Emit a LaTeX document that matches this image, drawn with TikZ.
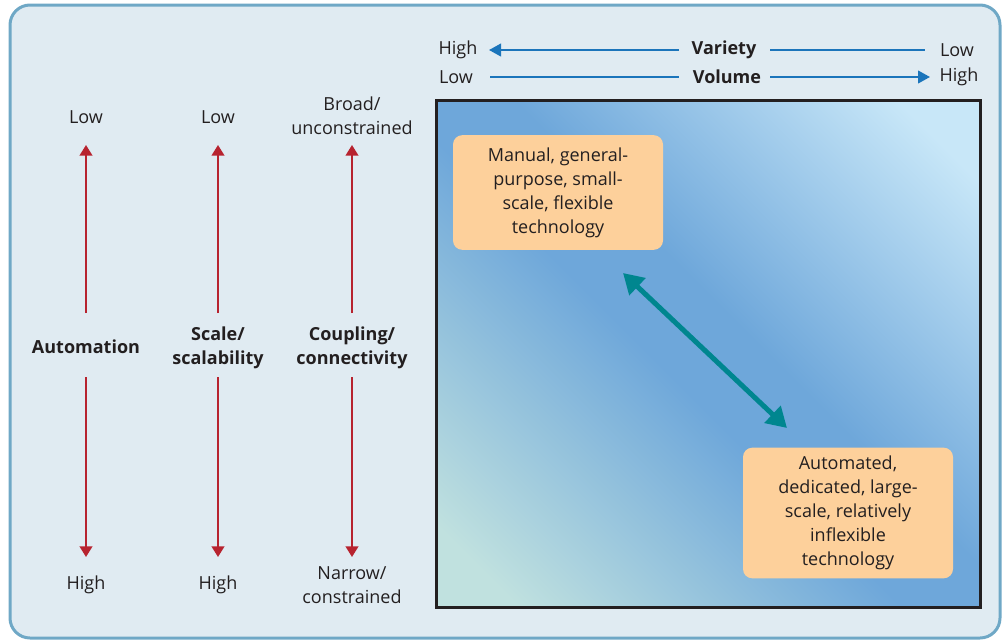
\documentclass[tikz,border=0pt]{standalone}
\usepackage{fontspec}
\setmainfont{Open Sans}
\usetikzlibrary{arrows.meta}
\definecolor{framefill}{HTML}{E0EBF2}
\definecolor{framedraw}{HTML}{6FA8C6}
\definecolor{redc}{HTML}{B7232F}
\definecolor{bluec}{HTML}{1B75BB}
\definecolor{tealc}{HTML}{00868F}
\definecolor{orangec}{HTML}{FDD09B}
\definecolor{textc}{HTML}{231F20}
\definecolor{gdark}{HTML}{6EA7DA}
\definecolor{gtr}{HTML}{C8E7F8}
\definecolor{gbl}{HTML}{C0E1DF}
\pgfdeclarehorizontalshading{matrixshade}{100bp}{color(0bp)=(gtr); color(20bp)=(gtr); color(46bp)=(gdark); color(54bp)=(gdark); color(80bp)=(gbl); color(100bp)=(gbl)}
\tikzset{
  lbl/.style={font=\fontsize{13.5}{18}\selectfont, text=textc, align=center, inner sep=0pt},
  blbl/.style={lbl, font=\fontsize{13.5}{18}\selectfont\bfseries},
  redarrow/.style={draw=redc, line width=1.5pt, -{Triangle[length=8pt,width=9.5pt]}},
  bluearrow/.style={draw=bluec, line width=1.5pt, -{Triangle[length=9pt,width=9.5pt]}},
  blueline/.style={draw=bluec, line width=1.5pt},
  techbox/.style={lbl, fill=orangec, rounded corners=7pt},
  tealarrow/.style={draw=tealc, line width=3.75pt, {Triangle[length=15pt,width=17pt]}-{Triangle[length=15pt,width=17pt]}}
}
\begin{document}
\begin{tikzpicture}[x=0.75pt,y=-0.75pt]
\useasboundingbox (0,0) rectangle (1003,640);
% outer frame
\draw[fill=framefill, draw=framedraw, line width=2.25pt, rounded corners=15pt] (10,5) rectangle (1000,638);
% shaded matrix box
\shade[shading=matrixshade, shading angle=-135] (436,100) rectangle (980,607);
\draw[draw=textc, line width=2.25pt] (436,100) rectangle (980,607);

% left columns
\node[lbl] (lowA) at (86,117) {Low};
\node[blbl] (autoA) at (86,347) {Automation};
\node[lbl] (highA) at (86,585) {High};
\node[lbl] (lowB) at (218,117) {Low};
\node[blbl] (scaleB) at (218,348) {Scale/\\scalability};
\node[lbl] (highB) at (218,585) {High};
\node[lbl] (lowC) at (352,116) {Broad/\\unconstrained};
\node[blbl] (coupC) at (352,348) {Coupling/\\connectivity};
\node[lbl] (highC) at (352,585) {Narrow/\\constrained};

\foreach \c/\x in {A/86,B/218,C/352}{
  \coordinate (up\c tail) at (\x,313);
  \coordinate (up\c tip) at (\x,145);
  \coordinate (dn\c tail) at (\x,377);
  \coordinate (dn\c tip) at (\x,557);
  \draw[redarrow] (up\c tail) -- (up\c tip);
  \draw[redarrow] (dn\c tail) -- (dn\c tip);
}

% top axes
\node[lbl] (varHigh) at (458,50) {High};
\node[blbl] (variety) at (724,50) {Variety};
\node[lbl] (varLow) at (957,50) {Low};
\node[lbl] (volLow) at (456,77) {Low};
\node[blbl] (volume) at (727,77) {Volume};
\node[lbl] (volHigh) at (959,77) {High};
\coordinate (varL1) at (679,50);
\coordinate (varTip) at (489,50);
\coordinate (varR1) at (770,50);
\coordinate (varR2) at (925,50);
\coordinate (volL1) at (490,77);
\coordinate (volL2) at (679,77);
\coordinate (volR1) at (770,77);
\coordinate (volTip) at (930,77);
\draw[bluearrow] (varL1) -- (varTip);
\draw[blueline] (varR1) -- (varR2);
\draw[blueline] (volL1) -- (volL2);
\draw[bluearrow] (volR1) -- (volTip);

% technology boxes
\node[techbox, minimum width=157.5pt, minimum height=86pt] (manual) at (558,192.5)
  {Manual, general-\\purpose, small-\\scale, flexible\\technology};
\node[techbox, minimum width=157.5pt, minimum height=98pt] (auto) at (848,513)
  {Automated,\\dedicated, large-\\scale, relatively\\inflexible\\technology};
\coordinate (tealA) at (623,273);
\coordinate (tealB) at (787,428);
\draw[tealarrow] (tealA) -- (tealB);
\end{tikzpicture}
\end{document}
